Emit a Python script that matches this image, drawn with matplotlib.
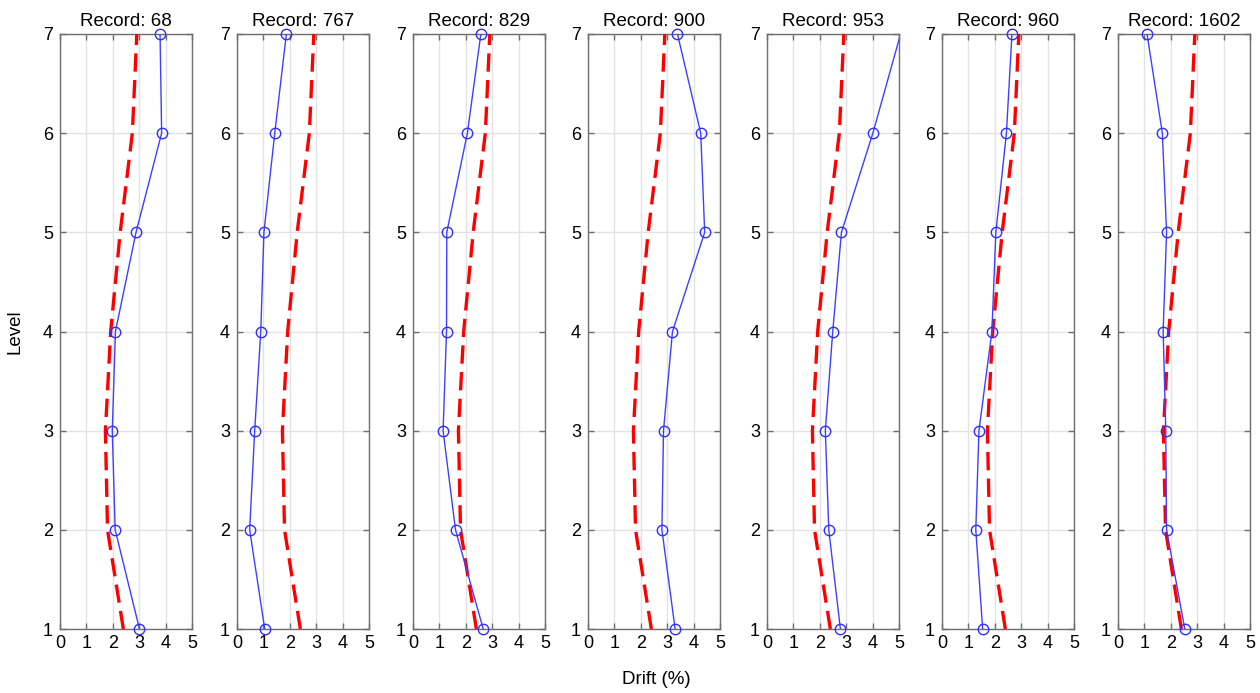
import matplotlib
matplotlib.use("Agg")
import matplotlib.pyplot as plt
import numpy as np

plt.rcParams['font.family'] = ['Liberation Sans', 'DejaVu Sans']

levels = [1, 2, 3, 4, 5, 6, 7]
records = ["68", "767", "829", "900", "953", "960", "1602"]

# Peak inter-storey drift (%) per level, bottom to top, for each record
drift_68 = [3.01, 2.09, 1.98, 2.10, 2.88, 3.85, 3.79]
drift_767 = [1.05, 0.48, 0.67, 0.90, 1.02, 1.43, 1.87]
drift_829 = [2.66, 1.61, 1.14, 1.27, 1.28, 2.06, 2.57]
drift_900 = [3.30, 2.80, 2.86, 3.20, 4.42, 4.27, 3.39]
drift_953 = [2.78, 2.34, 2.21, 2.49, 2.82, 4.01, 5.06]
drift_960 = [1.54, 1.28, 1.40, 1.89, 2.04, 2.44, 2.65]
drift_1602 = [2.53, 1.84, 1.81, 1.71, 1.84, 1.68, 1.10]

# Reference (median) drift profile shown in every panel
median_drift = [2.40, 1.80, 1.72, 1.92, 2.28, 2.74, 2.91]

record_drifts = [drift_68, drift_767, drift_829, drift_900,
                 drift_953, drift_960, drift_1602]

X_MAX = 5

W, H = 1260, 693
fig = plt.figure(figsize=(W / 100, H / 100), dpi=100)

lefts = [60, 237, 413, 588, 767, 942, 1118]
ax_w = 132
top, bottom = 34, 629

grid_col = "#e3e3e3"
spine_col = "#6e6e6e"
line_blue = "#3f3fff"

for left, rec, drift in zip(lefts, records, record_drifts):
    ax = fig.add_axes([left / W, 1 - bottom / H, ax_w / W, (bottom - top) / H])
    ax.set_xlim(0, X_MAX)
    ax.set_ylim(1, 7)
    ax.set_xticks([0, 1, 2, 3, 4, 5])
    ax.set_yticks(levels)
    ax.grid(True, color=grid_col, linewidth=1.0)
    ax.set_axisbelow(True)
    for s in ax.spines.values():
        s.set_color(spine_col)
        s.set_linewidth(1.0)
    ax.tick_params(direction="in", length=4, width=1.0, color=spine_col,
                   labelsize=13, pad=4, top=True, right=True)
    ax.tick_params(axis="y", pad=5)

    ax.plot(median_drift, levels, color="red", linewidth=2.4,
            dashes=(5.5, 2.5), zorder=3)
    # connecting line (clipped at the axes box)
    ax.plot(drift, levels, color=line_blue, linewidth=1.0, zorder=4)
    # markers only for points that fall inside the drift range
    d = np.asarray(drift, dtype=float)
    d_in = np.ma.masked_where(d > X_MAX, d)
    ax.plot(d_in, levels, linestyle="none", marker="o", markersize=7.5,
            markerfacecolor="none", markeredgecolor="#2f2fff",
            markeredgewidth=1.0, zorder=5, clip_on=False)
    ax.set_title(f"Record: {rec}", fontsize=13.5, pad=5.5)

fig.text(15 / W, 1 - 332 / H, "Level", rotation=90, ha="center",
         va="center", fontsize=13.5)
fig.text(656 / W, 1 - 680 / H, "Drift (%)", ha="center", va="center",
         fontsize=13.5)

fig.savefig("out.png", dpi=100)
